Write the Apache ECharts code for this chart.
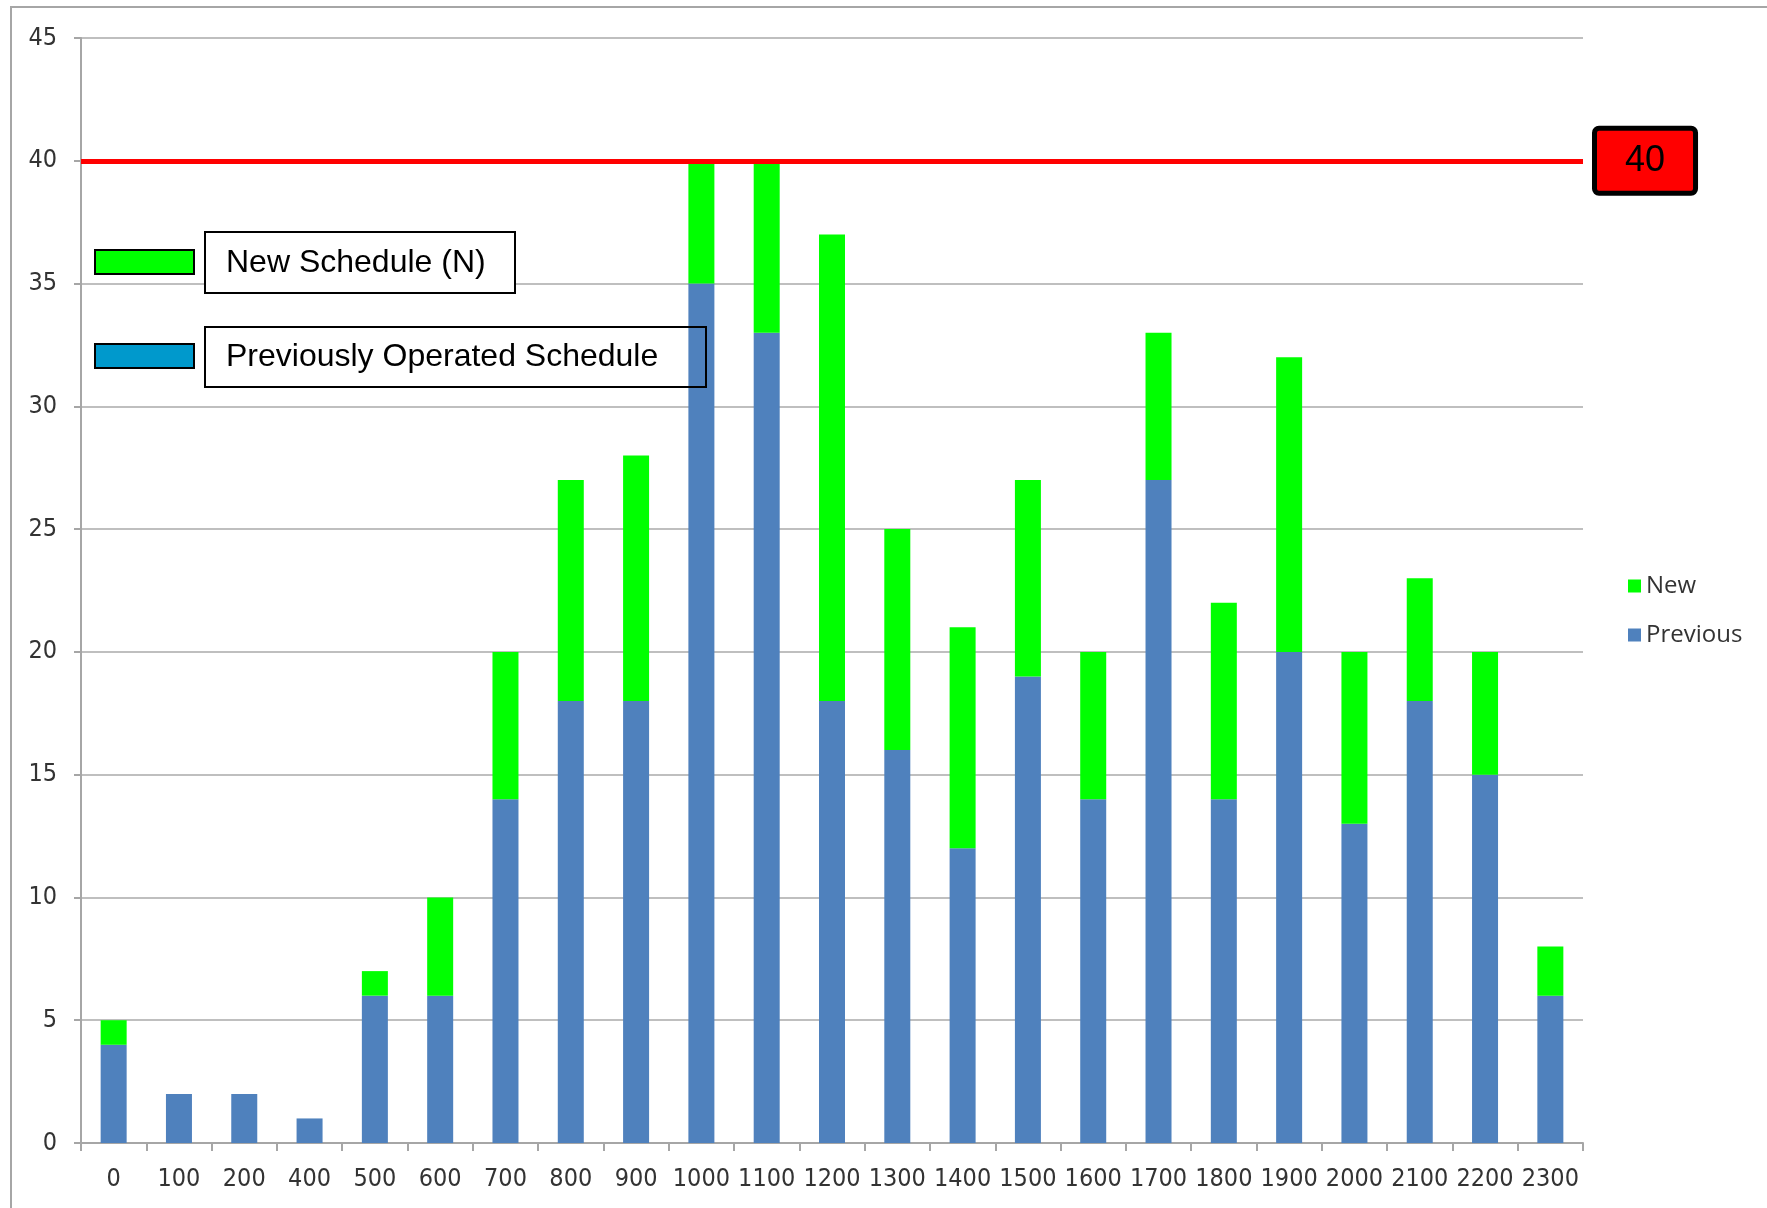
<!DOCTYPE html>
<html>
<head>
<meta charset="utf-8">
<title>Schedule chart</title>
<script src="https://cdn.jsdelivr.net/npm/echarts@6/dist/echarts.min.js"></script>
<style>
   html, body { margin: 0; padding: 0; background: #fff; }
   #chart { width: 1767px; height: 1208px; }
</style>
</head>
<body>
<div id="chart"></div>
<script>
   // hours of the day (no 300 in the source)
   var hours = ['0', '100', '200', '400', '500', '600', '700', '800', '900', '1000', '1100', '1200',
      '1300', '1400', '1500', '1600', '1700', '1800', '1900', '2000', '2100', '2200', '2300'];
   // previously operated schedule
   var previous = [4, 2, 2, 1, 6, 6, 14, 18, 18, 35, 33, 18, 16, 12, 19, 14, 27, 14, 20, 13, 18, 15, 6];
   // new schedule (N), stacked on top
   var newSched = [1, 0, 0, 0, 1, 4, 6, 9, 10, 5, 7, 19, 9, 9, 8, 6, 6, 8, 12, 7, 5, 5, 2];
   var limit = 40;
   var yTicks = { min: 0, max: 45, step: 5 };

   var axisFont = '"DejaVu Sans Condensed", "Liberation Sans Narrow", "Liberation Sans", Arial, sans-serif';
   var boxFont = '"Liberation Sans", Arial, sans-serif';

   var myChart = echarts.init(document.getElementById('chart'));
   var option = {
      animation: false,
      backgroundColor: '#fff',
      grid: { left: 81, right: 184, top: 38, bottom: 65 },
      legend: {
         data: ['New', 'Previous'],
         orient: 'vertical',
         left: 1623,
         top: 569,
         itemWidth: 13,
         itemHeight: 13,
         itemGap: 25,
         icon: 'rect',
         textStyle: { fontFamily: '"Open Sans", sans-serif', fontSize: 24, color: '#333' }
      },
      xAxis: {
         type: 'category',
         data: hours,
         axisLine: { lineStyle: { color: '#a6a6a6', width: 2 } },
         axisTick: { show: true, length: 8, lineStyle: { color: '#a6a6a6', width: 2 } },
         axisLabel: { interval: 0, fontFamily: axisFont, fontSize: 25, color: '#333', margin: 24 }
      },
      yAxis: {
         type: 'value',
         min: yTicks.min,
         max: yTicks.max,
         interval: yTicks.step,
         axisLine: { show: true, lineStyle: { color: '#a6a6a6', width: 2 } },
         axisTick: { show: true, length: 7, lineStyle: { color: '#a6a6a6', width: 2 } },
         splitLine: { lineStyle: { color: '#bfbfbf', width: 2 } },
         axisLabel: { fontFamily: axisFont, fontSize: 25, color: '#333', margin: 24 }
      },
      series: [
         {
            name: 'Previous',
            type: 'bar',
            stack: 'total',
            barWidth: 26,
            itemStyle: { color: '#4f81bd' },
            data: previous,
            markLine: {
               silent: true,
               symbol: ['none', 'none'],
               lineStyle: { color: '#ff0000', width: 5, type: 'solid' },
               label: {
                  show: true,
                  position: 'end',
                  distance: 14,
                  formatter: '{c}',
                  fontFamily: boxFont,
                  fontSize: 36,
                  lineHeight: 42,
                  color: '#000',
                  backgroundColor: '#ff0000',
                  borderColor: '#000',
                  borderWidth: 5,
                  borderRadius: 2,
                  padding: [6, 28, 12, 28]
               },
               data: [{ yAxis: limit }]
            }
         },
         {
            name: 'New',
            type: 'bar',
            stack: 'total',
            barWidth: 26,
            itemStyle: { color: '#00ff00' },
            data: newSched
         }
      ],
      graphic: [
         // outer frame
         { type: 'rect', silent: true, z: 0, shape: { x: 11, y: 7, width: 1800, height: 1300 },
           style: { fill: 'none', stroke: '#a6a6a6', lineWidth: 2 } },
         // annotation boxes: white fill hides gridlines but stays under the bars
         { type: 'rect', z: 1, shape: { x: 205, y: 232, width: 310, height: 61 },
           style: { fill: '#fff' } },
         { type: 'rect', z: 1, shape: { x: 205, y: 327, width: 501, height: 60 },
           style: { fill: '#fff' } },
         // annotation legend outlines and text on top
         { type: 'rect', z: 100, shape: { x: 95, y: 250, width: 99, height: 24 },
           style: { fill: '#00ff00', stroke: '#000', lineWidth: 2 } },
         { type: 'rect', z: 100, shape: { x: 205, y: 232, width: 310, height: 61 },
           style: { fill: 'none', stroke: '#000', lineWidth: 2 } },
         { type: 'text', z: 101, x: 226, y: 263,
           style: { text: 'New Schedule (N)', font: '32px ' + boxFont, fill: '#000', verticalAlign: 'middle' } },
         { type: 'rect', z: 100, shape: { x: 95, y: 344, width: 99, height: 24 },
           style: { fill: '#0099cc', stroke: '#000', lineWidth: 2 } },
         { type: 'rect', z: 100, shape: { x: 205, y: 327, width: 501, height: 60 },
           style: { fill: 'none', stroke: '#000', lineWidth: 2 } },
         { type: 'text', z: 101, x: 226, y: 357,
           style: { text: 'Previously Operated Schedule', font: '32px ' + boxFont, fill: '#000', verticalAlign: 'middle' } }
      ]
   };
   myChart.setOption(option);
</script>
</body>
</html>
